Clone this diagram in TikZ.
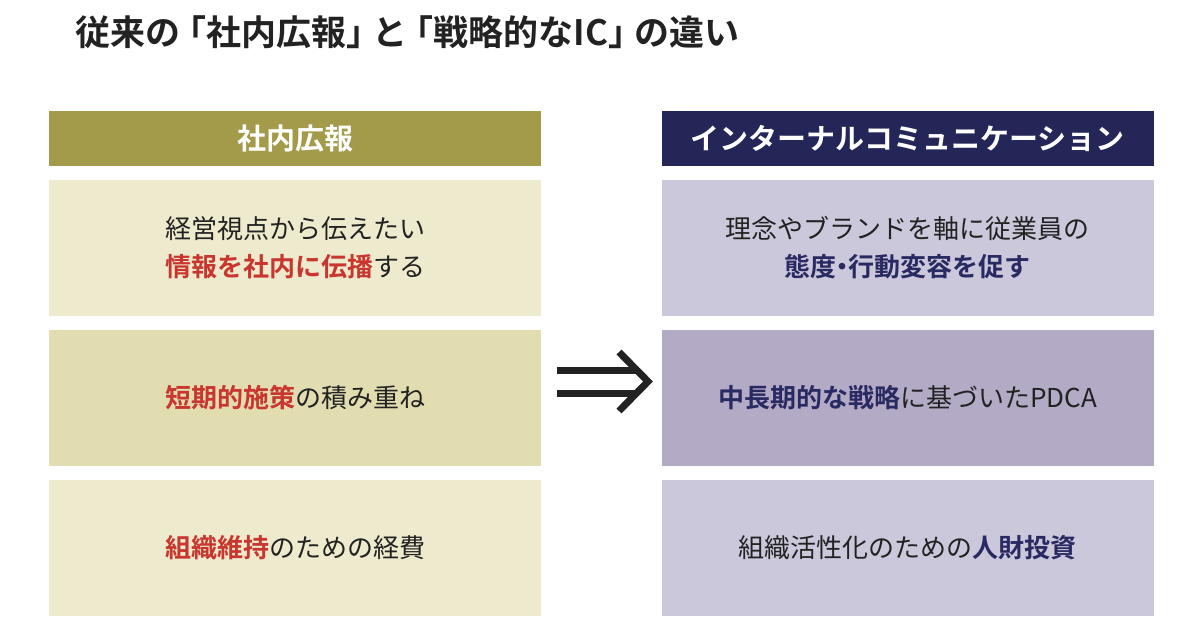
\documentclass[tikz,border=0pt]{standalone}
\usepackage{fontspec}
\setmainfont{Noto Sans CJK JP}[BoldFont={Noto Sans CJK JP Bold}]
\definecolor{olive}{HTML}{A39A4A}
\definecolor{navy}{HTML}{242657}
\definecolor{lbox}{HTML}{EEEACD}
\definecolor{lmid}{HTML}{E2DCB1}
\definecolor{rbox}{HTML}{CCC8DC}
\definecolor{rmid}{HTML}{B3AAC5}
\definecolor{hred}{HTML}{C8362F}
\definecolor{hnav}{HTML}{2A2A62}
\definecolor{txt}{HTML}{222222}
\newcommand{\R}[1]{\textbf{\color{hred}#1}}
\newcommand{\N}[1]{\textbf{\color{hnav}#1}}
\begin{document}
\begin{tikzpicture}[x=1pt,y=-1pt,
 hdr/.style={minimum width=492pt,minimum height=55pt,inner sep=0,text=white,font=\fontsize{29}{32}\selectfont\bfseries},
 cell/.style={minimum width=492pt,minimum height=136pt,inner sep=0,align=center,text=txt,font=\fontsize{26}{38}\selectfont}]
\useasboundingbox (0,0) rectangle (1200,630);
\fill[white] (0,0) rectangle (1200,630);
\node[anchor=west,text=txt,font=\fontsize{35}{38}\selectfont\bfseries] (title) at (72,32) {従来の\kern-9pt「社内広報」\kern-9ptと\kern-9pt「戦略的なIC」\kern-9ptの違い};
\node[hdr,fill=olive] (lh) at (295,138.5) {社内広報};
\node[hdr,fill=navy] (rh) at (907.5,138.5) {インターナルコミュニケーション};
\node[cell,fill=lbox] (l1) at (295,248) {経営視点から伝えたい\\\R{情報を社内に伝播}する};
\node[cell,fill=lmid] (l2) at (295,398) {\R{短期的施策}の積み重ね};
\node[cell,fill=lbox] (l3) at (295,548) {\R{組織維持}のための経費};
\node[cell,fill=rbox] (r1) at (907.5,248) {理念やブランドを軸に従業員の\\\N{態度\kern-7pt・\kern-7pt行動変容を促す}};
\node[cell,fill=rmid] (r2) at (907.5,398) {\N{中長期的な戦略}に基づいたPDCA};
\node[cell,fill=rbox] (r3) at (907.5,548) {組織活性化のための\N{人財投資}};
\draw[line width=7pt,txt] (557,370) -- (638,370) (557,393) -- (638,393);
\draw[line width=7pt,txt,line join=miter] (619,352) -- (648,381.5) -- (619,411);
\end{tikzpicture}
\end{document}
